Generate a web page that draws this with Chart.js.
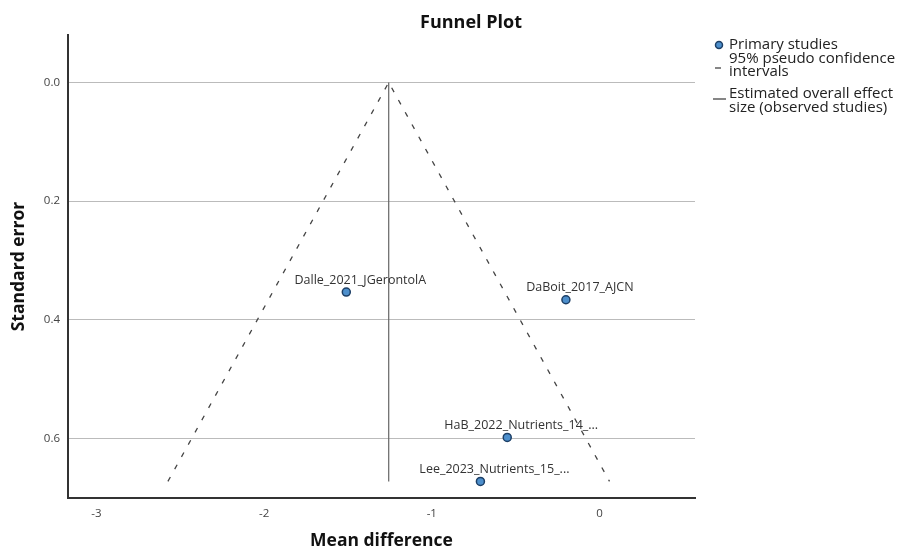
<!DOCTYPE html>
<html>
<head>
<meta charset="utf-8">
<script src="https://cdn.jsdelivr.net/npm/chart.js@4"></script>
<style>
    html, body { margin: 0; padding: 0; background: #fff; }
    #wrap { width: 900px; height: 553px; position: relative; }
</style>
</head>
<body>
<div id="wrap"><canvas id="funnel"></canvas></div>
<script>
// Study data
const studyNames = ['Dalle_2021_JGerontolA', 'DaBoit_2017_AJCN', 'HaB_2022_Nutrients_14_...', 'Lee_2023_Nutrients_15_...'];
const meanDiff = [-1.51, -0.20, -0.55, -0.71];
const stdErr = [0.353, 0.366, 0.598, 0.672];

// Overall effect and pseudo confidence funnel
const overallEffect = -1.257;
const overallSE = [0, 0.672];
const ciX = [-2.574, -1.257, 0.060];
const ciY = [0.672, 0, 0.672];

// Tick labels
const xTicks = [-3, -2, -1, 0];
const yTicks = [0, 0.2, 0.4, 0.6];

const FONT = "'Open Sans', 'DejaVu Sans', sans-serif";

// Title, point labels and legend drawn on the canvas
const extrasPlugin = {
    id: 'extras',
    afterDatasetsDraw(chart) {
        const ctx = chart.ctx;
        const x = chart.scales.x;
        const y = chart.scales.y;
        ctx.save();

        // point labels
        ctx.font = `12.5px ${FONT}`;
        ctx.fillStyle = '#333';
        ctx.textAlign = 'center';
        ctx.textBaseline = 'middle';
        studyNames.forEach((name, i) => {
            const px = x.getPixelForValue(meanDiff[i]);
            const py = y.getPixelForValue(stdErr[i]);
            ctx.fillText(name, px + 14, py - 12);
        });

        // title
        ctx.font = `bold 18px ${FONT}`;
        ctx.fillStyle = '#111';
        ctx.fillText('Funnel Plot', 471, 23);

        // legend
        ctx.textAlign = 'left';
        ctx.font = `15px ${FONT}`;
        ctx.fillStyle = '#222';
        ctx.fillText('Primary studies', 729, 45);
        ctx.fillText('95% pseudo confidence', 729, 59);
        ctx.fillText('intervals', 729, 72);
        ctx.fillText('Estimated overall effect', 729, 94);
        ctx.fillText('size (observed studies)', 729, 108);

        ctx.beginPath();
        ctx.arc(719, 45, 3.5, 0, Math.PI * 2);
        ctx.fillStyle = '#4d8fcc';
        ctx.fill();
        ctx.lineWidth = 1.5;
        ctx.strokeStyle = '#1d3f66';
        ctx.stroke();

        ctx.strokeStyle = '#444';
        ctx.lineWidth = 1.3;
        ctx.beginPath();
        ctx.moveTo(715, 68);
        ctx.lineTo(721, 68);
        ctx.stroke();

        ctx.beginPath();
        ctx.moveTo(713, 99);
        ctx.lineTo(726, 99);
        ctx.stroke();
        ctx.restore();
    }
};

new Chart(document.getElementById('funnel'), {
    type: 'scatter',
    data: {
        datasets: [{
            label: 'Primary studies',
            data: meanDiff.map((v, i) => ({ x: v, y: stdErr[i] })),
            pointRadius: 4,
            pointBackgroundColor: '#4d8fcc',
            pointBorderColor: '#1d3f66',
            pointBorderWidth: 1.5,
            order: 0
        }, {
            label: '95% pseudo confidence intervals',
            data: ciX.map((v, i) => ({ x: v, y: ciY[i] })),
            showLine: true,
            borderColor: '#444',
            borderWidth: 1.3,
            borderDash: [5, 9],
            pointRadius: 0,
            order: 1
        }, {
            label: 'Estimated overall effect size (observed studies)',
            data: overallSE.map(v => ({ x: overallEffect, y: v })),
            showLine: true,
            borderColor: '#666',
            borderWidth: 1.2,
            pointRadius: 0,
            order: 1
        }]
    },
    options: {
        responsive: true,
        maintainAspectRatio: false,
        animation: false,
        layout: { padding: { top: 35, right: 205, left: 0, bottom: 0 } },
        plugins: {
            legend: { display: false },
            title: { display: false },
            tooltip: { enabled: false }
        },
        scales: {
            x: {
                type: 'linear',
                min: -3.17,
                max: 0.57,
                afterBuildTicks: s => { s.ticks = xTicks.map(v => ({ value: v })); },
                afterFit: s => { s.height = 55; },
                grid: { display: false, drawTicks: false },
                border: { display: true, color: '#333', width: 2 },
                ticks: { color: '#444', padding: 9, font: { family: FONT, size: 11.5 }, callback: v => String(v) },
                title: { display: true, text: 'Mean difference', color: '#111', font: { family: FONT, size: 17.5, weight: 'bold' }, padding: { top: 0, bottom: 1 } }
            },
            y: {
                type: 'linear',
                reverse: true,
                min: -0.08,
                max: 0.70,
                afterBuildTicks: s => { s.ticks = yTicks.map(v => ({ value: v })); },
                afterFit: s => { s.width = 68; },
                grid: { color: '#bbb', lineWidth: 1, drawTicks: false },
                border: { display: true, color: '#333', width: 2 },
                ticks: { color: '#444', padding: 8, font: { family: FONT, size: 11.5 }, callback: v => Number(v).toFixed(1) },
                title: { display: true, text: 'Standard error', color: '#111', font: { family: FONT, size: 17.5, weight: 'bold' }, padding: { top: 9, bottom: 0 } }
            }
        }
    },
    plugins: [extrasPlugin]
});
</script>
</body>
</html>
